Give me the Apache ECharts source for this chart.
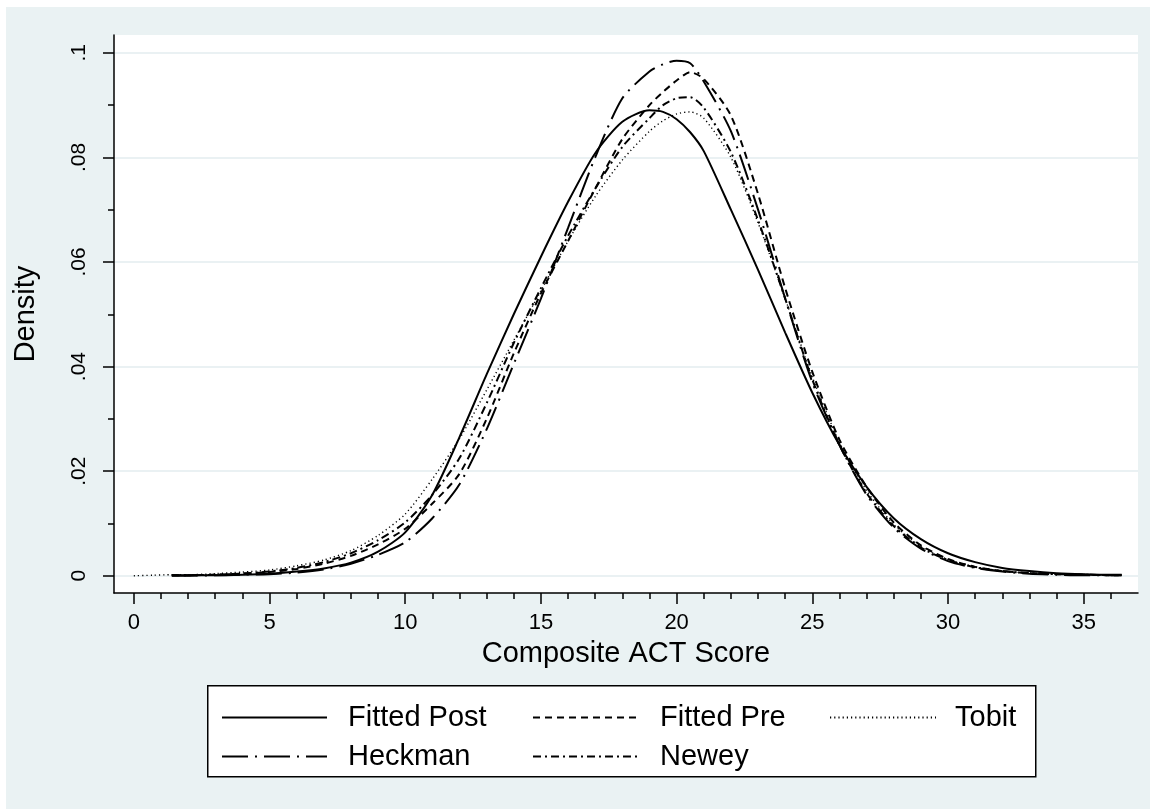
<!DOCTYPE html>
<html>
<head>
<meta charset="utf-8">
<title>Composite ACT Score density</title>
<script src="https://cdn.jsdelivr.net/npm/echarts@6/dist/echarts.min.js"></script>
<style>
  html, body { margin: 0; padding: 0; background: #fff; }
  #chart { position: absolute; left: 6px; top: 7px; width: 1144px; height: 802px; }
</style>
</head>
<body>
<div id="chart"></div>
<script>
const scores = [1.4, 2, 3, 4, 5, 6, 7, 8, 9, 10, 11, 12, 13, 14, 15, 16, 17, 18, 19, 19.5, 20, 20.5,
  21, 22, 23, 24, 25, 26, 27, 28, 29, 30, 31, 32, 33, 34, 35, 36, 36.4]

const fittedPost = [0.0001, 0.0001, 0.0001, 0.0002, 0.0004, 0.0008, 0.0014, 0.0025, 0.0046, 0.0083, 0.0155, 0.0265,
  0.0385, 0.0500, 0.0610, 0.0715, 0.0808, 0.0868, 0.0890, 0.0887, 0.0873, 0.0848,
  0.0812, 0.0700, 0.0585, 0.0465, 0.0350, 0.0250, 0.0170, 0.0110, 0.0070, 0.0043, 0.0026, 0.0015, 0.0009, 0.0005, 0.0003, 0.0002, 0.0002]

const fittedPre = [0.0001, 0.0001, 0.0002, 0.0004, 0.0007, 0.0013, 0.0023, 0.0038, 0.0060, 0.0090, 0.0138, 0.0195,
  0.0300, 0.0425, 0.0540, 0.0640, 0.0740, 0.0835, 0.0900, 0.0925, 0.0947, 0.0963,
  0.0950, 0.0880, 0.0730, 0.0550, 0.0390, 0.0260, 0.0170, 0.0102, 0.0058, 0.0032, 0.0017, 0.0009, 0.0005, 0.0003, 0.0002, 0.0001, 0.0001]

const tobit = [0.0002, 0.0002, 0.0004, 0.0007, 0.0011, 0.0019, 0.0030, 0.0048, 0.0077, 0.0118, 0.0185, 0.0262,
  0.0355, 0.0450, 0.0545, 0.0640, 0.0725, 0.0795, 0.0850, 0.0870, 0.0883, 0.0887,
  0.0875, 0.0800, 0.0675, 0.0530, 0.0380, 0.0255, 0.0163, 0.0098, 0.0056, 0.0031, 0.0017, 0.0009, 0.0005, 0.0003, 0.0002, 0.0001, 0.0001]
// tobit starts further left
const tobitLeadX = [0, 0.7]
const tobitLeadY = [0.0000, 0.0001]

const heckman = [0.0000, 0.0000, 0.0001, 0.0002, 0.0003, 0.0006, 0.0012, 0.0023, 0.0040, 0.0064, 0.0110, 0.0175,
  0.0280, 0.0405, 0.0530, 0.0665, 0.0800, 0.0913, 0.0964, 0.0978, 0.0985, 0.0980,
  0.0945, 0.0850, 0.0700, 0.0530, 0.0370, 0.0250, 0.0155, 0.0092, 0.0052, 0.0028, 0.0015, 0.0008, 0.0004, 0.0002, 0.0001, 0.0001, 0.0001]

const newey = [0.0001, 0.0001, 0.0002, 0.0004, 0.0008, 0.0015, 0.0026, 0.0043, 0.0068, 0.0102, 0.0155, 0.0225,
  0.0330, 0.0445, 0.0550, 0.0650, 0.0740, 0.0820, 0.0875, 0.0900, 0.0913, 0.0915,
  0.0895, 0.0810, 0.0680, 0.0530, 0.0375, 0.0250, 0.0158, 0.0095, 0.0054, 0.0030, 0.0016, 0.0009, 0.0005, 0.0003, 0.0002, 0.0001, 0.0001]

const xTicks = [0, 5, 10, 15, 20, 25, 30, 35]
const xMinorTicks = [1, 2, 3, 4, 6, 7, 8, 9, 11, 12, 13, 14, 16, 17, 18, 19, 21, 22, 23, 24, 26, 27, 28, 29, 31, 32, 33, 34, 36]
const yTicks = [0, 0.02, 0.04, 0.06, 0.08, 0.1]
const yMinorTicks = [0.01, 0.03, 0.05, 0.07, 0.09]

const FONT = '"Liberation Sans", Arial, Helvetica, sans-serif'

const pairs = (xs, ys) => xs.map((x, i) => [x, ys[i]])

// line look for each series
const lines = [
  { name: 'Fitted Post', data: pairs(scores, fittedPost), style: { width: 2, type: 'solid' } },
  { name: 'Fitted Pre', data: pairs(scores, fittedPre), style: { width: 2, type: [7, 5] } },
  { name: 'Tobit', data: pairs(tobitLeadX, tobitLeadY).concat(pairs(scores, tobit)), style: { width: 1.4, type: [1.2, 3] } },
  { name: 'Heckman', data: pairs(scores, heckman), style: { width: 2, type: [26, 7, 2, 7] } },
  { name: 'Newey', data: pairs(scores, newey), style: { width: 2, type: [8, 4, 2, 4] } }
]

// legend slots: left, top, sample length, text offset
const legendSlots = [
  [215, 696, 105, 16],
  [526, 696, 108, 14],
  [823, 696, 106, 14],
  [215, 735, 105, 16],
  [526, 735, 108, 14]
]

const chart = echarts.init(document.getElementById('chart'))

// minor tick axis, shares the range of the main one
const minorAxis = (min, max, pos, ticks) => ({
  type: 'value',
  min,
  max,
  position: pos,
  axisLine: { show: false, onZero: false },
  axisTick: { show: true, customValues: ticks, length: 6, lineStyle: { color: '#000', width: 1.5 } },
  axisLabel: { show: false },
  splitLine: { show: false }
})

const option = {
  animation: false,
  backgroundColor: '#eaf2f3',
  grid: {
    left: 108,
    top: 28,
    right: 12,
    bottom: 216,
    outerBoundsMode: 'none',
    containLabel: false,
    show: true,
    backgroundColor: '#ffffff',
    borderWidth: 0
  },
  xAxis: [
    {
      type: 'value',
      min: -0.73,
      max: 37,
      position: 'bottom',
      name: 'Composite ACT Score',
      nameLocation: 'middle',
      nameGap: 46,
      nameTextStyle: { fontFamily: FONT, fontSize: 29, color: '#000' },
      axisLine: { show: true, onZero: false, lineStyle: { color: '#000', width: 1.5 } },
      axisTick: { show: true, customValues: xTicks, length: 11, lineStyle: { color: '#000', width: 1.5 } },
      axisLabel: { customValues: xTicks, margin: 19, fontFamily: FONT, fontSize: 22, color: '#000' },
      splitLine: { show: false }
    },
    minorAxis(-0.73, 37, 'bottom', xMinorTicks)
  ],
  yAxis: [
    {
      type: 'value',
      min: -0.0033,
      max: 0.1034,
      position: 'left',
      name: 'Density',
      nameLocation: 'middle',
      nameGap: 74,
      nameTextStyle: { fontFamily: FONT, fontSize: 29, color: '#000' },
      axisLine: { show: true, onZero: false, lineStyle: { color: '#000', width: 1.5 } },
      axisTick: { show: true, customValues: yTicks, length: 11, lineStyle: { color: '#000', width: 1.5 } },
      axisLabel: {
        customValues: yTicks,
        rotate: 90,
        margin: 24,
        fontFamily: FONT,
        fontSize: 21,
        color: '#000',
        formatter: (v) => v === 0 ? '0' : String(+v.toFixed(2)).replace(/^0/, '')
      },
      splitLine: { show: true, lineStyle: { color: '#e3edef', width: 1.5 } }
    },
    minorAxis(-0.0033, 0.1034, 'left', yMinorTicks)
  ],
  legend: legendSlots.map((slot, i) => ({
    data: [lines[i].name],
    left: slot[0],
    top: slot[1],
    padding: 0,
    itemWidth: slot[2],
    itemHeight: 20,
    selectedMode: false,
    itemStyle: { opacity: 0 },
    textStyle: { fontFamily: FONT, fontSize: 29, color: '#000', padding: [0, 0, 0, slot[3]] }
  })),
  // legend frame
  graphic: [
    {
      type: 'rect',
      left: 201,
      top: 678,
      z: -1,
      shape: { width: 828, height: 91 },
      style: { fill: '#ffffff', stroke: '#000', lineWidth: 1.5 }
    }
  ],
  series: lines.map(l => ({
    name: l.name,
    type: 'line',
    xAxisIndex: 0,
    yAxisIndex: 0,
    data: l.data,
    smooth: 0.25,
    symbol: 'none',
    showSymbol: false,
    lineStyle: Object.assign({ color: '#000' }, l.style),
    itemStyle: { color: '#000' }
  }))
}

chart.setOption(option)
</script>
</body>
</html>
